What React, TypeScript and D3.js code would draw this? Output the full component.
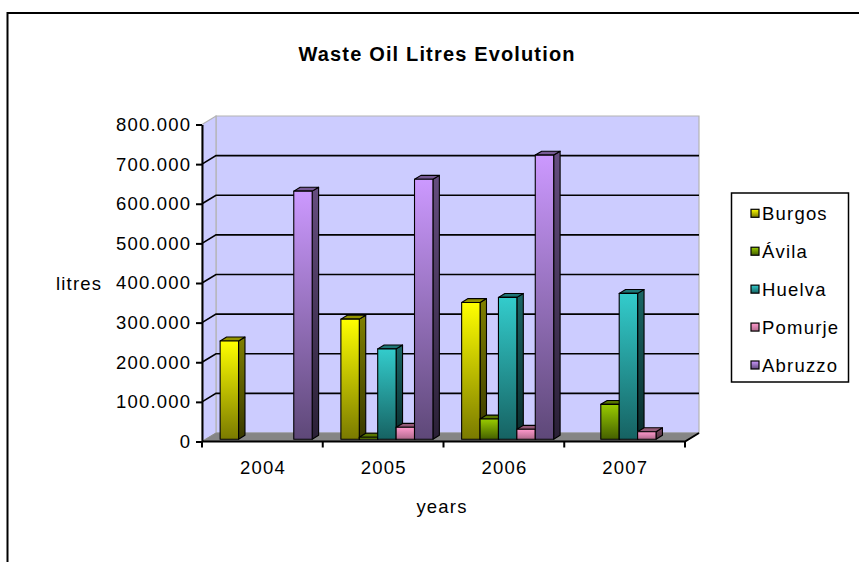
import { useEffect, useRef } from "react"
import * as d3 from "d3"

const years = ["2004", "2005", "2006", "2007"]
const seriesNames = ["Burgos", "Ávila", "Huelva", "Pomurje", "Abruzzo"]
const burgos = [248000, 303000, 345000, 0]
const avila = [0, 5000, 51000, 88000]
const huelva = [0, 228000, 358000, 368000]
const pomurje = [0, 30000, 25000, 19000]
const abruzzo = [626000, 656000, 717000, 0]
const yTicks = [0, 100000, 200000, 300000, 400000, 500000, 600000, 700000, 800000]

const seriesValues = [burgos, avila, huelva, pomurje, abruzzo]
// light (top) and dark (bottom) of each bar gradient
const seriesColors = [
  ["#ffff00", "#7a7a00"],
  ["#99cc00", "#456000"],
  ["#33cccc", "#166262"],
  ["#ff99cc", "#b06a8c"],
  ["#cc99ff", "#5e4878"],
]

const FONT = "'Liberation Sans', Arial, sans-serif"
const FS = 18.5
const LS = 1.2
const fmt = d3.formatLocale({ decimal: ",", thousands: ".", grouping: [3], currency: ["", ""] }).format(",d")

export default function App() {
  const svgRef = useRef<SVGSVGElement | null>(null)

  useEffect(() => {
    if (!svgRef.current) return
    const svg = d3.select(svgRef.current)
    svg.selectAll("*").remove()

    const width = 859
    const height = 562
    const left = 202
    const right = 685
    const top = 124.5
    const bottom = 441.5
    const dx = 14
    const dy = -8.5
    const z0 = 0.27
    const z1 = 0.73

    svg.attr("width", width).attr("height", height)

    const defs = svg.append("defs")
    seriesColors.forEach(([light, dark], i) => {
      const front = defs.append("linearGradient").attr("id", `front${i}`).attr("x1", 0).attr("y1", 0).attr("x2", 0).attr("y2", 1)
      front.append("stop").attr("offset", 0).attr("stop-color", light)
      front.append("stop").attr("offset", 1).attr("stop-color", dark)
      const side = defs.append("linearGradient").attr("id", `side${i}`).attr("x1", 0).attr("y1", 0).attr("x2", 0).attr("y2", 1)
      side.append("stop").attr("offset", 0).attr("stop-color", d3.interpolateRgb(light, "#000")(0.5))
      side.append("stop").attr("offset", 1).attr("stop-color", d3.interpolateRgb(dark, "#000")(0.55))
    })

    // outer frame
    svg.append("rect")
      .attr("x", 7.5).attr("y", 13).attr("width", 900).attr("height", 600)
      .attr("fill", "#fff").attr("stroke", "#000").attr("stroke-width", 2)

    const x = d3.scaleBand<string>().domain(years).range([left, right]).padding(0)
    const x1 = d3.scaleBand<string>().domain(seriesNames).range([0, x.bandwidth()]).paddingInner(0).paddingOuter(0.78)
    const y = d3.scaleLinear().domain([0, 800000]).range([bottom, top])

    const pt = (px: number, py: number, z: number) => `${px + dx * z},${py + dy * z}`

    // walls and floor
    svg.append("polygon")
      .attr("points", [pt(left, top, 1), pt(right, top, 1), pt(right, bottom, 1), pt(left, bottom, 1)].join(" "))
      .attr("fill", "#ccccff").attr("stroke", "#b4b4b4").attr("stroke-width", 1.2)
    svg.append("polygon")
      .attr("points", [pt(left, top, 0), pt(left, top, 1), pt(left, bottom, 1), pt(left, bottom, 0)].join(" "))
      .attr("fill", "#ccccff").attr("stroke", "#b4b4b4").attr("stroke-width", 1.2)
    svg.append("polygon")
      .attr("points", [pt(left, bottom, 0), pt(right, bottom, 0), pt(right, bottom, 1), pt(left, bottom, 1)].join(" "))
      .attr("fill", "#858585").attr("stroke", "#8a8a8a").attr("stroke-width", 1)

    // gridlines
    const grid = svg.append("g").attr("stroke", "#000").attr("stroke-width", 1.6).attr("fill", "none")
    yTicks.filter((t) => t > 0 && t < 800000).forEach((t) => {
      grid.append("path").attr("d", `M${pt(left, y(t), 0)}L${pt(left, y(t), 1)}L${pt(right, y(t), 1)}`)
    })

    // bars
    const barsG = svg.append("g")
    const bw = x1.bandwidth()
    const ddx = dx * (z1 - z0)
    const ddy = dy * (z1 - z0)
    years.forEach((year, yi) => {
      seriesNames.forEach((name, si) => {
        const v = seriesValues[si][yi]
        if (!v) return
        const x0 = (x(year) ?? 0) + (x1(name) ?? 0) + dx * z0
        const yt = y(v) + dy * z0
        const yb = y(0) + dy * z0
        const g = barsG.append("g").attr("stroke", "#000").attr("stroke-width", 1.1).attr("stroke-linejoin", "round")
        g.append("polygon")
          .attr("points", `${x0 + bw},${yt} ${x0 + bw + ddx},${yt + ddy} ${x0 + bw + ddx},${yb + ddy} ${x0 + bw},${yb}`)
          .attr("fill", `url(#side${si})`)
        g.append("polygon")
          .attr("points", `${x0},${yt} ${x0 + bw},${yt} ${x0 + bw + ddx},${yt + ddy} ${x0 + ddx},${yt + ddy}`)
          .attr("fill", d3.interpolateRgb(seriesColors[si][0], "#000")(0.42))
        g.append("rect")
          .attr("x", x0).attr("y", yt).attr("width", bw).attr("height", yb - yt)
          .attr("fill", `url(#front${si})`)
      })
    })

    // y axis
    svg.append("g")
      .attr("transform", `translate(${left},0)`)
      .call(d3.axisLeft(y).tickValues(yTicks).tickSize(6).tickSizeOuter(0).tickPadding(6).tickFormat((d) => fmt(d as number)))
      .call((g) => g.selectAll("line, path").attr("stroke", "#000").attr("stroke-width", 2))
      .call((g) => g.selectAll("text")
        .attr("fill", "#000").attr("font-size", FS).attr("font-family", FONT)
        .attr("letter-spacing", LS).attr("dx", LS))

    // x axis
    const xAxis = svg.append("g").attr("transform", `translate(0,${bottom})`)
    xAxis.append("path")
      .attr("d", `M${left},0H${right}L${right + dx},${dy}`)
      .attr("fill", "none").attr("stroke", "#000").attr("stroke-width", 2)
    const boundaries = [...years.map((c) => x(c) ?? 0), right]
    xAxis.selectAll("line.tick")
      .data(boundaries)
      .join("line")
      .attr("x1", (d) => d).attr("x2", (d) => d).attr("y1", 0).attr("y2", 6)
      .attr("stroke", "#000").attr("stroke-width", 2)
    xAxis.selectAll("text")
      .data(years)
      .join("text")
      .text((d) => d)
      .attr("x", (d) => (x(d) ?? 0) + x.bandwidth() / 2 + 0.6)
      .attr("y", 32)
      .attr("text-anchor", "middle")
      .attr("font-size", FS).attr("font-family", FONT).attr("letter-spacing", LS)

    // titles
    svg.append("text")
      .text("Waste Oil Litres Evolution")
      .attr("x", 298.5).attr("y", 61)
      .attr("textLength", 276).attr("lengthAdjust", "spacing")
      .attr("font-size", 20).attr("font-weight", "bold").attr("font-family", FONT)
    svg.append("text")
      .text("years")
      .attr("x", 442).attr("y", 513).attr("text-anchor", "middle")
      .attr("font-size", FS).attr("font-family", FONT).attr("letter-spacing", LS)
    svg.append("text")
      .text("litres")
      .attr("x", 56).attr("y", 289.5)
      .attr("font-size", FS).attr("font-family", FONT).attr("letter-spacing", LS)

    // legend
    const legend = svg.append("g")
    legend.append("rect")
      .attr("x", 731.5).attr("y", 193).attr("width", 117).attr("height", 189)
      .attr("fill", "#fff").attr("stroke", "#000").attr("stroke-width", 1.5)
    const ly = d3.scalePoint<string>().domain(seriesNames).range([213.3, 365])
    const items = legend.selectAll("g.item").data(seriesNames).join("g")
      .attr("transform", (d) => `translate(0,${ly(d)})`)
    items.append("rect")
      .attr("x", 751).attr("y", -4).attr("width", 8).attr("height", 8)
      .attr("fill", (_, i) => `url(#front${i})`).attr("stroke", "#000").attr("stroke-width", 1.2)
    items.append("text")
      .text((d) => d)
      .attr("x", 762).attr("y", 6.6)
      .attr("font-size", FS).attr("font-family", FONT).attr("letter-spacing", LS)
  }, [])

  return <svg ref={svgRef} style={{ position: "absolute", left: 0, top: 0 }} />
}
